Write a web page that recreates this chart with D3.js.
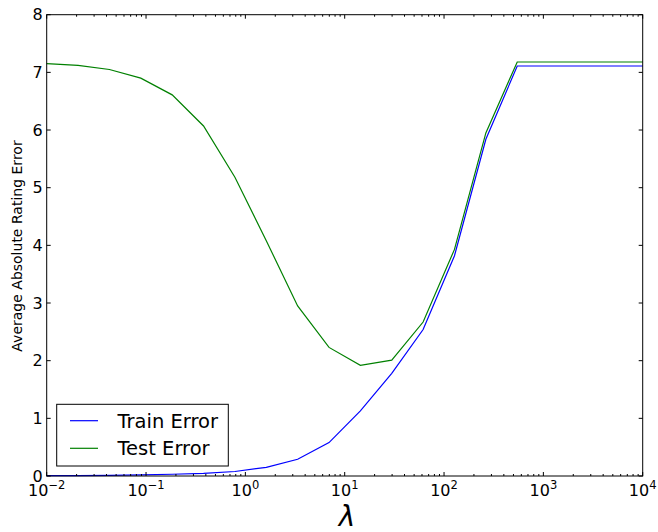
<!DOCTYPE html>
<html>
<head>
<meta charset="utf-8">
<script src="https://cdn.jsdelivr.net/npm/d3@7"></script>
<style>
  body { margin: 0; background: white; }
  svg { display: block; font-family: "DejaVu Sans", sans-serif; }
</style>
</head>
<body>
<svg id="chart" width="658" height="532"></svg>
<script>
// regularisation strengths (20 values, log spaced)
var lambdas = [0.01, 0.02069, 0.04281, 0.08859, 0.1833, 0.3793, 0.7848, 1.624, 3.360, 6.952,
  14.38, 29.76, 61.58, 127.4, 263.7, 545.6, 1129, 2336, 4833, 10000]
var trainErr = [0.005, 0.008, 0.012, 0.02, 0.03, 0.045, 0.078, 0.15, 0.29, 0.58,
  1.13, 1.78, 2.54, 3.82, 5.84, 7.11, 7.11, 7.11, 7.11, 7.11]
var testErr = [7.15, 7.12, 7.05, 6.90, 6.61, 6.07, 5.18, 4.08, 2.95, 2.23,
  1.92, 2.01, 2.67, 3.93, 5.95, 7.18, 7.18, 7.18, 7.18, 7.18]
var xTickExps = [-2, -1, 0, 1, 2, 3, 4]
var yTicks = [0, 1, 2, 3, 4, 5, 6, 7, 8]
var seriesNames = ['Train Error', 'Test Error']
var seriesColors = ['#0000ff', '#008000']

// plot box (note: "top" is taken by window.top, so use pl/pr/pt/pb)
var pl = 46.7, pr = 642.7, pt = 14.7, pb = 476

var svg = d3.select('#chart')
var x = d3.scaleLog().domain([1e-2, 1e4]).range([pl, pr])
var y = d3.scaleLinear().domain([0, 8]).range([pb, pt])

// lines
var line = d3.line().x((d, i) => x(lambdas[i])).y(d => y(d))
;[trainErr, testErr].forEach((s, i) => {
  svg.append('path')
    .attr('d', line(s))
    .attr('fill', 'none')
    .attr('stroke', seriesColors[i])
    .attr('stroke-width', 1.2)
})

// minor ticks
var minors = []
for (var e = -2; e < 4; e++) {
  for (var m = 2; m <= 9; m++) minors.push(m * Math.pow(10, e))
}
var ticks = svg.append('g').attr('stroke', 'black').attr('stroke-width', 1)
minors.forEach(v => {
  var px = x(v)
  ticks.append('line').attr('x1', px).attr('x2', px).attr('y1', pb).attr('y2', pb - 2)
  ticks.append('line').attr('x1', px).attr('x2', px).attr('y1', pt).attr('y2', pt + 2)
})
xTickExps.forEach(ex => {
  var px = x(Math.pow(10, ex))
  ticks.append('line').attr('x1', px).attr('x2', px).attr('y1', pb).attr('y2', pb - 4)
  ticks.append('line').attr('x1', px).attr('x2', px).attr('y1', pt).attr('y2', pt + 4)
  var t = svg.append('text')
    .attr('x', px).attr('y', 495.5)
    .attr('text-anchor', 'middle')
    .attr('font-size', 16)
  t.append('tspan').text('10')
  t.append('tspan').attr('dy', -7).attr('font-size', 11.5).text(ex < 0 ? '\u2212' + (-ex) : ex)
})
yTicks.forEach(v => {
  var py = y(v)
  ticks.append('line').attr('x1', pl).attr('x2', pl + 4).attr('y1', py).attr('y2', py)
  ticks.append('line').attr('x1', pr).attr('x2', pr - 4).attr('y1', py).attr('y2', py)
  svg.append('text')
    .attr('x', pl - 4).attr('y', py + 5.5)
    .attr('text-anchor', 'end')
    .attr('font-size', 16)
    .text(v)
})

// frame
svg.append('rect')
  .attr('x', pl).attr('y', pt)
  .attr('width', pr - pl).attr('height', pb - pt)
  .attr('fill', 'none').attr('stroke', 'black').attr('stroke-width', 1)

// axis labels
svg.append('text')
  .attr('transform', `translate(21.5,246) rotate(-90)`)
  .attr('text-anchor', 'middle')
  .attr('font-size', 14)
  .text('Average Absolute Rating Error')
svg.append('text')
  .attr('x', 347).attr('y', 526)
  .attr('text-anchor', 'middle')
  .attr('font-size', 28)
  .attr('font-style', 'italic')
  .text('\u03bb')

// legend
var lg = svg.append('g')
lg.append('rect')
  .attr('x', 56.7).attr('y', 404.3).attr('width', 171.6).attr('height', 61.7)
  .attr('fill', 'white').attr('stroke', 'black').attr('stroke-width', 1)
seriesNames.forEach((n, i) => {
  var ly = 420.7 + i * 27.6
  lg.append('line').attr('x1', 70).attr('x2', 98).attr('y1', ly).attr('y2', ly)
    .attr('stroke', seriesColors[i]).attr('stroke-width', 1.2)
  lg.append('text').attr('x', 117.5).attr('y', ly + 7).attr('font-size', 19.5).text(n)
})
</script>
</body>
</html>
